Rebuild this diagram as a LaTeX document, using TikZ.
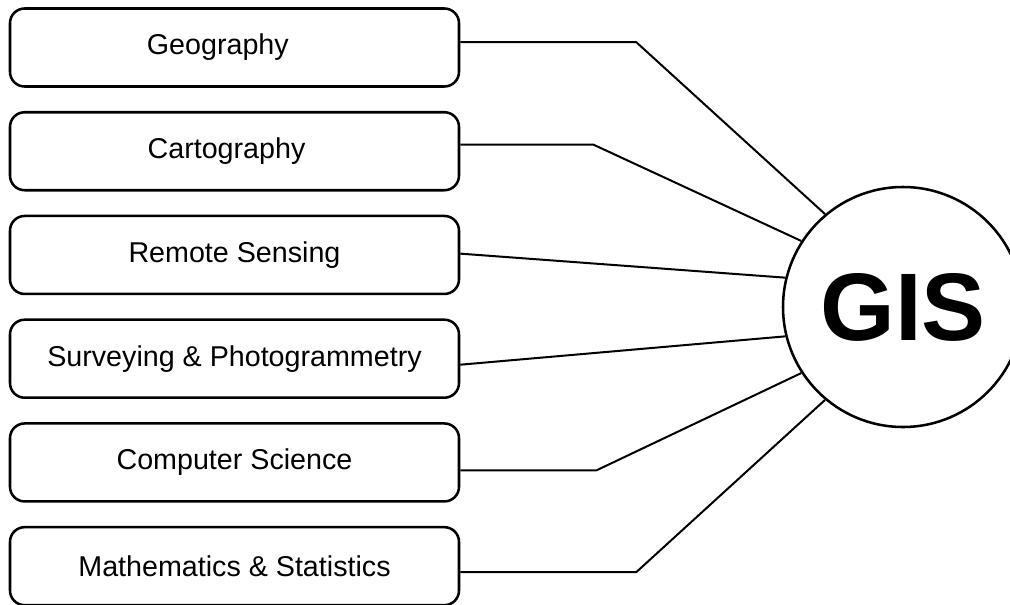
\documentclass[tikz,border=0pt]{standalone}
\usepackage{fontspec}
\setmainfont{Liberation Sans}
\usepackage{tikz}
\usetikzlibrary{positioning}
\tikzset{
  field/.style = {draw, rounded corners=11pt, line width=1.9pt, fill=white,
                  minimum width=336.75pt, minimum height=58.5pt, inner sep=0pt,
                  align=center, font=\fontsize{21.5}{26}\selectfont},
  hub/.style   = {draw, circle, line width=1.9pt, fill=white, minimum size=180pt,
                  inner sep=0pt, font=\fontsize{72}{80}\selectfont\bfseries},
  link/.style  = {line width=1.5pt, line join=miter},
}
\begin{document}
\begin{tikzpicture}[x=0.75pt, y=-0.75pt, node distance=17.4pt]
  \useasboundingbox (0,0) rectangle (1010,604);
  % disciplines
  \node[field] (geo) at (234.5,47.5) {Geography\hspace*{25pt}};
  \node[field, below=of geo]  (carto) {Cartography\hspace*{12pt}};
  \node[field, below=of carto] (rs)   {Remote Sensing};
  \node[field, below=of rs]   (survey) {Surveying \& Photogrammetry};
  \node[field, below=of survey] (cs)  {Computer Science};
  \node[field, below=of cs]   (math)  {Mathematics \& Statistics};
  % the hub
  \node[hub] (gis) at (903,307) {GIS};
  % links into the hub
  \draw[link] ([yshift=4pt]geo.east)     -- ++(176,0) -- (gis.130.4);
  \draw[link] ([yshift=5pt]carto.east)   -- ++(133,0) -- (gis.147.8);
  \draw[link] ([yshift=1pt]rs.east)      -- (gis.166.4);
  \draw[link] ([yshift=-4.5pt]survey.east) -- (gis.194.5);
  \draw[link] ([yshift=-6pt]cs.east)     -- ++(136,0) -- (gis.213.4);
  \draw[link] ([yshift=-4.5pt]math.east) -- ++(176,0) -- (gis.230.2);
\end{tikzpicture}
\end{document}
